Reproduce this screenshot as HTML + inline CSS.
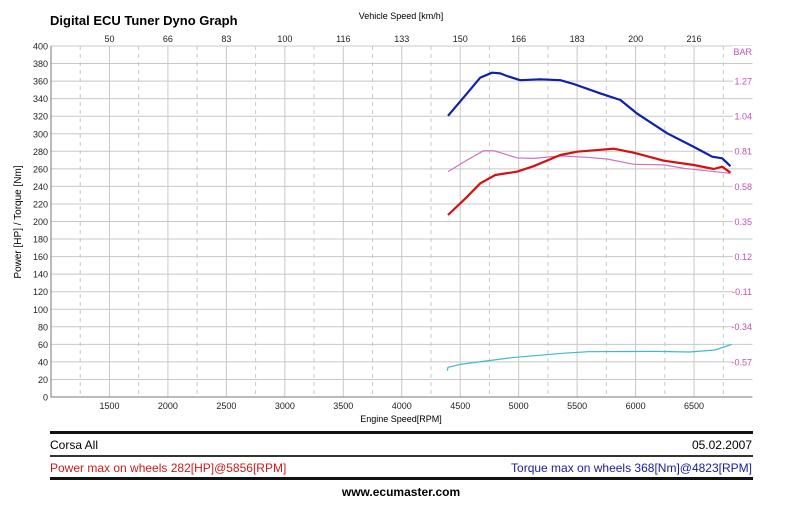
<!DOCTYPE html>
<html><head><meta charset="utf-8"><style>
body{margin:0;background:#fff;width:800px;height:507px;overflow:hidden}
svg{font-family:"Liberation Sans",Arial,sans-serif}
</style></head><body>
<svg width="800" height="507" viewBox="0 0 800 507">
<g id="grid"></g>
<g id="axes"></g>
<g id="series"></g>
<text x="50" y="25" font-size="13" font-weight="bold">Digital ECU Tuner Dyno Graph</text>
<text x="401" y="19" font-size="9" text-anchor="middle">Vehicle Speed [km/h]</text>
<text x="401" y="422" font-size="9" text-anchor="middle">Engine Speed[RPM]</text>
<text transform="translate(21,222) rotate(-90)" font-size="10" text-anchor="middle">Power [HP] / Torque [Nm]</text>
<rect x="732" y="46" width="21" height="11" fill="#fff"/>
<text x="752" y="55" font-size="9" fill="#c050b0" text-anchor="end">BAR</text>
<rect x="50" y="431" width="703" height="3" fill="#111"/>
<text x="50" y="449" font-size="12">Corsa All</text>
<text x="752" y="449" font-size="12" text-anchor="end">05.02.2007</text>
<rect x="50" y="455" width="703" height="2" fill="#333"/>
<text x="50" y="472" font-size="12" fill="#d01818">Power max on wheels 282[HP]@5856[RPM]</text>
<text x="752" y="472" font-size="12" fill="#1a1aa0" text-anchor="end">Torque max on wheels 368[Nm]@4823[RPM]</text>
<rect x="50" y="477" width="703" height="3" fill="#111"/>
<text x="401" y="496" font-size="12" font-weight="bold" text-anchor="middle">www.ecumaster.com</text>
</svg>
<script>
const rpmTicks=[1500,2000,2500,3000,3500,4000,4500,5000,5500,6000,6500];
const speedTicks=["50","66","83","100","116","133","150","166","183","200","216"];
const yTicks=[0,20,40,60,80,100,120,140,160,180,200,220,240,260,280,300,320,340,360,380,400];
const barTicks=[1.27,1.04,0.81,0.58,0.35,0.12,-0.11,-0.34,-0.57];
const torqueRpm=[4396,4558,4672,4772,4843,4900,5014,5185,5357,5471,5699,5870,6013,6270,6498,6655,6741,6812];
const torqueVal=[320.5,346,364,369.6,368.8,365.8,361,362,361,356.7,346,338.5,323,300.5,285,273.8,272,263];
const powerRpm=[4396,4558,4672,4800,4985,5128,5357,5500,5813,5984,6241,6498,6669,6741,6812];
const powerVal=[207.4,228,243.5,253,256.7,263,275.8,279.5,283,278.4,269.3,264.4,259.8,262.5,255.6];
const boostRpm=[4396,4558,4700,4786,4985,5128,5357,5585,5756,5984,6241,6412,6812];
const boostVal=[0.676,0.752,0.813,0.813,0.767,0.763,0.779,0.770,0.759,0.724,0.720,0.698,0.665];
const cyanRpm=[4390,4396,4500,4937,5374,5594,6159,6464,6680,6822];
const cyanVal=[30,33.8,37.2,44.8,49.8,51.6,52,51.3,53.6,60];

const NS="http://www.w3.org/2000/svg";
const X0=51,X1=752.5,Y0=397,Y1=46;
const x=r=>X0+(r-1000)*(X1-X0)/6000;
const y=v=>Y0-v*(Y0-Y1)/400;
const yb=b=>81+(1.27-b)*35.1/0.23;
function mk(tag,attrs,parent){const e=document.createElementNS(NS,tag);for(const k in attrs)e.setAttribute(k,attrs[k]);parent.appendChild(e);return e;}
const grid=document.getElementById('grid'),axes=document.getElementById('axes'),series=document.getElementById('series');
yTicks.forEach(v=>{
  const l=mk('line',{x1:X0,x2:X1,y1:y(v),y2:y(v),stroke:'#c8c8c8','stroke-width':1},grid);
  
  
  const t=mk('text',{x:48,y:y(v)+3.5,'font-size':9,'text-anchor':'end',fill:'#222'},axes);t.textContent=v;
  
  
});
rpmTicks.forEach((r,i)=>{
  const l=mk('line',{x1:x(r),x2:x(r),y1:Y1,y2:Y0,stroke:'#c8c8c8','stroke-width':1},grid);
  
  
  const d=mk('line',{x1:x(r-250),x2:x(r-250),y1:Y1,y2:Y0,stroke:'#c8c8c8','stroke-width':1,'stroke-dasharray':'4,4'},grid);
  
  
  const t=mk('text',{x:x(r),y:409,'font-size':9,'text-anchor':'middle',fill:'#222'},axes);t.textContent=r;
  
  
  const s=mk('text',{x:x(r),y:42,'font-size':9,'text-anchor':'middle',fill:'#222'},axes);s.textContent=speedTicks[i];
  
  
});
const dl=mk('line',{x1:x(6750),x2:x(6750),y1:Y1,y2:Y0,stroke:'#c8c8c8','stroke-dasharray':'4,4'},grid);


barTicks.forEach(b=>{
  const bg=mk('rect',{x:733,y:yb(b)-5,width:20,height:11,fill:'#fff'},axes);
  
  
  const t=mk('text',{x:752,y:yb(b)+3.5,'font-size':9,'text-anchor':'end',fill:'#c050b0'},axes);t.textContent=b.toFixed(2);
  
  
});
const ax=mk('path',{d:`M${X0},${Y1}V${Y0}H${X1}`,fill:'none',stroke:'#777','stroke-width':1},axes);


function line(rs,vs,f,col,w,name){
  const d=rs.map((r,i)=>(i?'L':'M')+x(r).toFixed(1)+','+f(vs[i]).toFixed(1)).join('');
  const p=mk('path',{d:d,fill:'none',stroke:col,'stroke-width':w,'stroke-linejoin':'round'},series);
  
  
}
line(cyanRpm,cyanVal,y,'#40b8d0',1.2,'aux-line');
line(boostRpm,boostVal,yb,'#d070c0',1.2,'boost-line');
line(powerRpm,powerVal,y,'#d41010',2.2,'power-line');
line(torqueRpm,torqueVal,y,'#1020a8',2.2,'torque-line');
</script>
</body></html>
